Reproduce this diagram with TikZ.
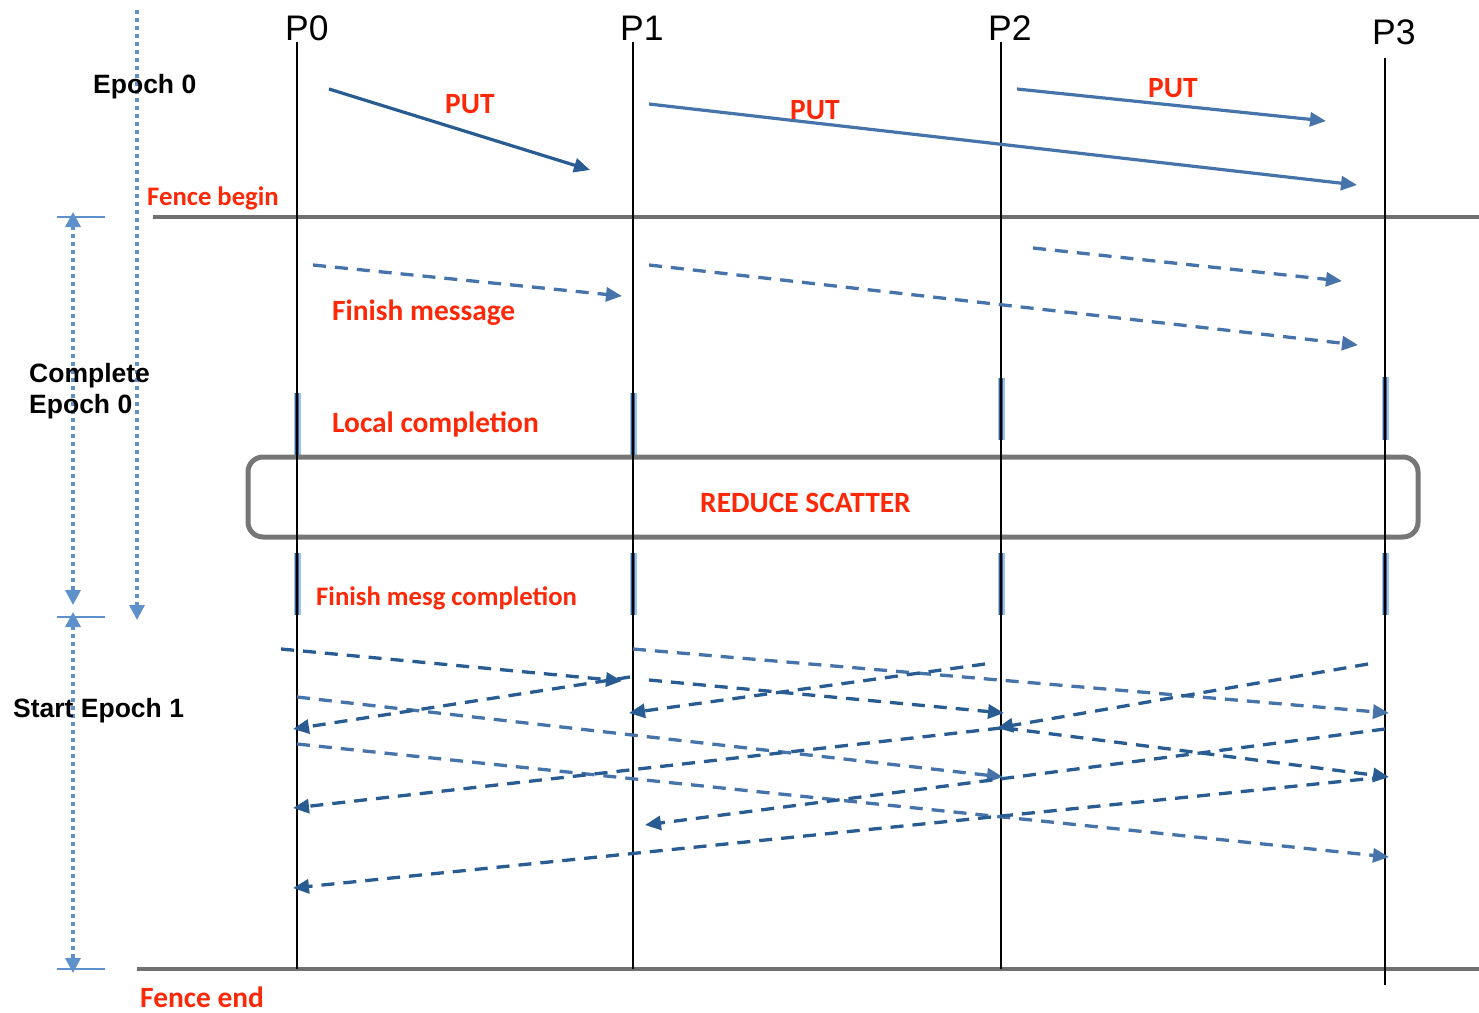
\documentclass[tikz,border=0pt]{standalone}
\usepackage{fontspec}
\usetikzlibrary{arrows.meta}
\newfontfamily\arialfont{Liberation Sans}
\newfontfamily\calfont{Carlito}
\definecolor{msgdark}{RGB}{40,92,146}
\definecolor{msglight}{RGB}{70,116,170}
\definecolor{redtxt}{RGB}{252,40,8}
\definecolor{spanblue}{RGB}{94,144,204}
\definecolor{fencegray}{RGB}{112,112,112}
\definecolor{boxgray}{RGB}{118,118,118}
\definecolor{markblue}{RGB}{52,98,152}
\definecolor{markhalo}{RGB}{160,192,228}
\begin{document}
\begin{tikzpicture}[x=1pt,y=-1pt,
  proc/.style={line width=2.8pt,black},
  fence/.style={line width=3.2pt,fencegray},
  msgtip/.style={-{Triangle[length=16pt,width=14pt]}},
  putarrow/.style={msgtip,line width=3.2pt},
  msgd/.style={msgtip,line width=3.3pt,msgdark,dash pattern=on 13pt off 9pt},
  msgl/.style={msgtip,line width=3.3pt,msglight,dash pattern=on 13pt off 9pt},
  halo/.style={line width=7pt,markhalo},
  core/.style={line width=4.5pt,markblue},
  spanline/.style={line width=3.3pt,spanblue,dash pattern=on 4pt off 4pt},
  spantip/.style={{Triangle[length=15pt,width=15pt]}-{Triangle[length=15pt,width=15pt]}},
  tick/.style={line width=2.8pt,spanblue},
  redlbl/.style={inner sep=0pt,anchor=base west,text=redtxt,font=\calfont\bfseries\fontsize{29.4}{34}\selectfont},
  redsm/.style={redlbl,font=\calfont\bfseries\fontsize{26.7}{31}\selectfont},
  blklbl/.style={inner sep=0pt,anchor=base west,align=left,font=\arialfont\bfseries\fontsize{26.5}{32}\selectfont},
  plbl/.style={inner sep=0pt,anchor=base west,font=\arialfont\fontsize{35.5}{40}\selectfont},
]
\useasboundingbox (0,0) rectangle (1479,1012);

% process axes
\coordinate (p0t) at (297,42);  \coordinate (p0b) at (297,969);
\coordinate (p1t) at (633,42);  \coordinate (p1b) at (633,969);
\coordinate (p2t) at (1001,42); \coordinate (p2b) at (1001,969);
\coordinate (p3t) at (1385,58); \coordinate (p3b) at (1385,985);

% fences
\coordinate (fb0) at (153,217); \coordinate (fb1) at (1479,217);
\coordinate (fe0) at (137,969); \coordinate (fe1) at (1479,969);
\draw[fence] (fb0) -- (fb1);
\draw[fence] (fe0) -- (fe1);

% completion marks on each axis
\foreach \x/\a/\b in {297/393/455, 633/393/455, 1001/378/440, 1385/377/440,
                      297/553/615, 633/553/615, 1001/553/615, 1385/553/615} {
  \draw[halo] (\x,\a) -- (\x,\b);
  \draw[core] (\x,\a) -- (\x,\b);
}

% reduce-scatter box
\node[draw=boxgray,line width=5pt,rounded corners=15pt,minimum width=1170pt,
      minimum height=80pt,inner sep=0pt] (rs) at (833,497) {};

\draw[proc] (p0t) -- (p0b);
\draw[proc] (p1t) -- (p1b);
\draw[proc] (p2t) -- (p2b);
\draw[proc] (p3t) -- (p3b);

% process names
\node[plbl] (lp0) at (285,40) {P0};
\node[plbl] (lp1) at (620,40) {P1};
\node[plbl] (lp2) at (988,40) {P2};
\node[plbl] (lp3) at (1372,44) {P3};

% epoch 0: puts
\coordinate (put0s) at (329,89);  \coordinate (put0e) at (590,170);
\coordinate (put1s) at (649,104); \coordinate (put1e) at (1357,185);
\coordinate (put2s) at (1017,89); \coordinate (put2e) at (1326,121);
\draw[putarrow,msgdark] (put0s) -- (put0e);
\draw[putarrow,msglight] (put1s) -- (put1e);
\draw[putarrow,msglight] (put2s) -- (put2e);

% finish messages
\coordinate (fm0s) at (313,265);  \coordinate (fm0e) at (622,296);
\coordinate (fm1s) at (649,265);  \coordinate (fm1e) at (1358,345);
\coordinate (fm2s) at (1033,248); \coordinate (fm2e) at (1342,281);
\draw[msgl] (fm0s) -- (fm0e);
\draw[msgl] (fm1s) -- (fm1e);
\draw[msgl] (fm2s) -- (fm2e);

% epoch 1: all-to-all traffic
\coordinate (m01s) at (281,649);  \coordinate (m01e) at (622,681);
\coordinate (m02s) at (297,697);  \coordinate (m02e) at (1003,777);
\coordinate (m03s) at (297,744);  \coordinate (m03e) at (1389,857);
\coordinate (m10s) at (630,677);  \coordinate (m10e) at (293,729);
\coordinate (m12s) at (649,680);  \coordinate (m12e) at (1004,713);
\coordinate (m13s) at (633,649);  \coordinate (m13e) at (1389,713);
\coordinate (m20s) at (1001,728); \coordinate (m20e) at (293,808);
\coordinate (m21s) at (985,664);  \coordinate (m21e) at (629,713);
\coordinate (m23s) at (1005,728); \coordinate (m23e) at (1389,777);
\coordinate (m30s) at (1385,777); \coordinate (m30e) at (293,888);
\coordinate (m31s) at (1385,729); \coordinate (m31e) at (645,825);
\coordinate (m32s) at (1368,664); \coordinate (m32e) at (997,728);
\draw[msgd] (m01s) -- (m01e);
\draw[msgl] (m02s) -- (m02e);
\draw[msgl] (m03s) -- (m03e);
\draw[msgd] (m10s) -- (m10e);
\draw[msgd] (m12s) -- (m12e);
\draw[msgl] (m13s) -- (m13e);
\draw[msgd] (m20s) -- (m20e);
\draw[msgd] (m21s) -- (m21e);
\draw[msgd] (m23s) -- (m23e);
\draw[msgd] (m30s) -- (m30e);
\draw[msgd] (m31s) -- (m31e);
\draw[msgd] (m32s) -- (m32e);

% epoch spans on the left
\coordinate (e0t) at (137,10);  \coordinate (e0b) at (137,620);
\draw[spanline,-{Triangle[length=15pt,width=15pt]}] (e0t) -- (e0b);
\coordinate (c0t) at (73,212);  \coordinate (c0b) at (73,605);
\coordinate (s1t) at (73,612);  \coordinate (s1b) at (73,973);
\draw[spanline,spantip] (c0t) -- (c0b);
\draw[spanline,spantip] (s1t) -- (s1b);
\coordinate (t0a) at (57,217); \coordinate (t0b) at (105,217);
\coordinate (t1a) at (57,617); \coordinate (t1b) at (105,617);
\coordinate (t2a) at (57,969); \coordinate (t2b) at (105,969);
\draw[tick] (t0a) -- (t0b);
\draw[tick] (t1a) -- (t1b);
\draw[tick] (t2a) -- (t2b);

% labels
\node[blklbl] (ep0) at (93,93) {Epoch 0};
\node[blklbl] (cep0) at (29,413) {Complete\\[-1pt]Epoch 0};
\node[blklbl] (sep1) at (13,717) {Start Epoch 1};
\node[redlbl] (put0l) at (445,113) {PUT};
\node[redlbl] (put1l) at (790,119) {PUT};
\node[redlbl] (put2l) at (1148,97) {PUT};
\node[redsm] (fbl) at (147,205) {Fence begin};
\node[redlbl] (fml) at (332,320) {Finish message};
\node[redlbl] (lcl) at (332,432) {Local completion};
\node[redlbl] (rsl) at (700,512) {REDUCE SCATTER};
\node[redsm] (fmcl) at (316,605) {Finish mesg completion};
\node[redlbl] (fel) at (140,1007) {Fence end};
\end{tikzpicture}
\end{document}
